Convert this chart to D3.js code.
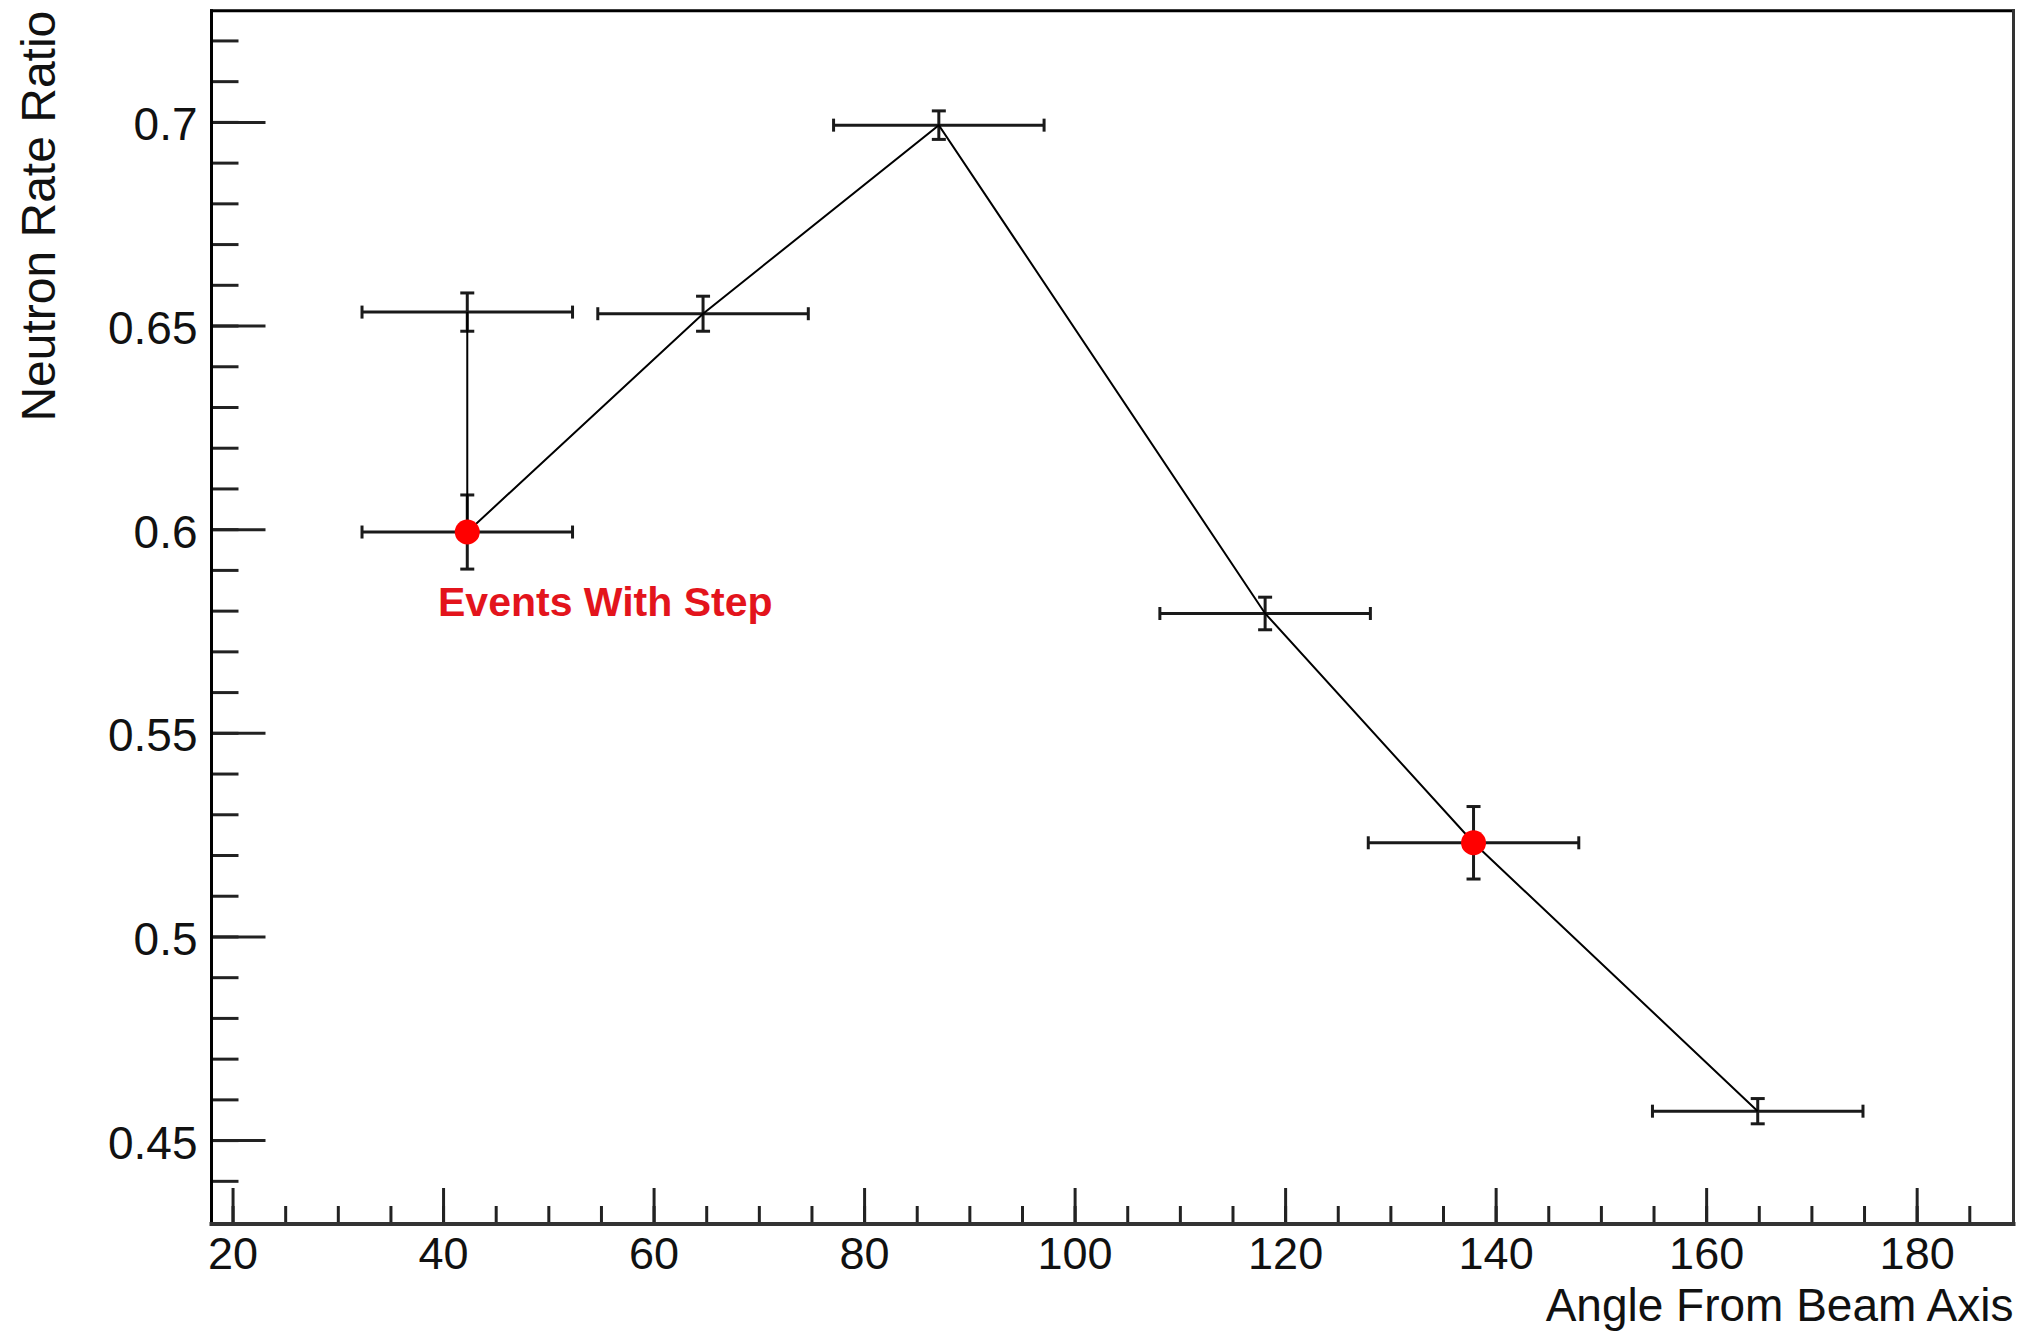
<!DOCTYPE html>
<html>
<head>
<meta charset="utf-8">
<script src="https://cdn.jsdelivr.net/npm/d3@7"></script>
<style>
  body { margin: 0; background: #fff; }
  svg { display: block; }
  .tick text { font-family: "Liberation Sans", Arial, Helvetica, sans-serif; }
</style>
</head>
<body>
<div id="chart"></div>
<script>
// data
const angles      = [42.3, 42.3, 64.7, 87.1, 118.1, 137.9, 164.9];
const ratios      = [0.6533, 0.5993, 0.6529, 0.6992, 0.5793, 0.5230, 0.4571];
const ratioErrors = [0.0047, 0.0091, 0.0043, 0.0035, 0.0040, 0.0089, 0.0031];
const angleErrors = [10, 10, 10, 10, 10, 10, 10];
const withStep    = [false, true, false, false, false, true, false];

const xTicks      = [20, 40, 60, 80, 100, 120, 140, 160, 180];
const xMinorTicks = d3.range(20, 190, 5);
const yTicks      = [0.45, 0.5, 0.55, 0.6, 0.65, 0.7];
const yTickLabels = ["0.45", "0.5", "0.55", "0.6", "0.65", "0.7"];
const yMinorTicks = d3.range(44, 73).map(d => d / 100);

const xTitle = "Angle From Beam Axis";
const yTitle = "Neutron Rate Ratio";
const stepLabel = "Events With Step";

const W = 2037, H = 1331;
const frame = {left: 211.5, right: 2013.5, top: 10.7, bottom: 1224};
const font = '"Liberation Sans", Arial, Helvetica, sans-serif';

let points = angles.map((a, i) => ({
    x: a, y: ratios[i], ex: angleErrors[i], ey: ratioErrors[i], step: withStep[i]
}));

let svg = d3.select('#chart').append('svg').attr('width', W).attr('height', H);

let x = d3.scaleLinear().domain([18, 189.2]).range([frame.left, frame.right]);
let y = d3.scaleLinear().domain([0.4294, 0.7273]).range([frame.bottom, frame.top]);

// x axis: major + minor ticks pointing up
let xMinor = svg.append('g').attr('transform', `translate(0,${frame.bottom})`)
    .call(d3.axisBottom(x).tickValues(xMinorTicks).tickSize(-18).tickFormat(''));
let xMajor = svg.append('g').attr('transform', `translate(0,${frame.bottom})`)
    .call(d3.axisBottom(x).tickValues(xTicks).tickSize(-36).tickPadding(13).tickFormat(d3.format('d')));

// y axis
let yMinor = svg.append('g').attr('transform', `translate(${frame.left},0)`)
    .call(d3.axisLeft(y).tickValues(yMinorTicks).tickSize(-27).tickFormat(''));
let yMajor = svg.append('g').attr('transform', `translate(${frame.left},0)`)
    .call(d3.axisLeft(y).tickValues(yTicks).tickSize(-54).tickPadding(14)
        .tickFormat((d, i) => yTickLabels[i]));

[xMinor, xMajor, yMinor, yMajor].forEach(g => {
    g.select('.domain').remove();
    g.selectAll('.tick line').attr('stroke', '#222').attr('stroke-width', 3);
    g.selectAll('.tick text').attr('font-size', 46).attr('fill', '#111');
});
xMajor.selectAll('.tick text').attr('font-size', 45);
yMajor.selectAll('.tick text').attr('dy', '0.39em');

// frame
let borders = [
    {x1: frame.left, y1: frame.top, x2: frame.right, y2: frame.top, w: 3, c: '#000'},
    {x1: frame.left, y1: frame.top, x2: frame.left, y2: frame.bottom, w: 3, c: '#000'},
    {x1: frame.right, y1: frame.top, x2: frame.right, y2: frame.bottom, w: 3, c: '#333'},
    {x1: frame.left, y1: frame.bottom, x2: frame.right, y2: frame.bottom, w: 4, c: '#333'}
];
svg.append('g').selectAll('line').data(borders).join('line')
    .attr('x1', d => d.x1).attr('y1', d => d.y1)
    .attr('x2', d => d.x2).attr('y2', d => d.y2)
    .attr('stroke', d => d.c).attr('stroke-width', d => d.w)
    .attr('stroke-linecap', 'square');

// error bars
let bars = svg.append('g').attr('stroke', '#1a1a1a').attr('stroke-width', 3);
points.forEach(p => {
    let cx = x(p.x), cy = y(p.y);
    let x0 = x(p.x - p.ex), x1 = x(p.x + p.ex);
    let y0 = y(p.y + p.ey), y1 = y(p.y - p.ey);
    bars.append('line').attr('x1', x0).attr('x2', x1).attr('y1', cy).attr('y2', cy);
    bars.append('line').attr('x1', x0).attr('x2', x0).attr('y1', cy - 6.5).attr('y2', cy + 6.5);
    bars.append('line').attr('x1', x1).attr('x2', x1).attr('y1', cy - 6.5).attr('y2', cy + 6.5);
    bars.append('line').attr('x1', cx).attr('x2', cx).attr('y1', y0).attr('y2', y1);
    bars.append('line').attr('x1', cx - 7).attr('x2', cx + 7).attr('y1', y0).attr('y2', y0);
    bars.append('line').attr('x1', cx - 7).attr('x2', cx + 7).attr('y1', y1).attr('y2', y1);
});

// connecting line
let line = d3.line().x(d => x(d.x)).y(d => y(d.y));
svg.append('path').datum(points)
    .attr('d', line)
    .attr('fill', 'none')
    .attr('stroke', '#000')
    .attr('stroke-width', 2);

// red markers
svg.append('g').selectAll('circle').data(points.filter(p => p.step)).join('circle')
    .attr('cx', d => x(d.x)).attr('cy', d => y(d.y))
    .attr('r', 12.5)
    .attr('fill', '#f00');

svg.append('text')
    .attr('x', 438).attr('y', 616)
    .attr('font-family', font).attr('font-size', 41).attr('font-weight', 'bold')
    .attr('fill', '#e3141c')
    .text(stepLabel);

// axis titles
svg.append('text')
    .attr('x', frame.right).attr('y', 1321)
    .attr('text-anchor', 'end')
    .attr('font-family', font).attr('font-size', 46).attr('fill', '#111')
    .text(xTitle);

svg.append('text')
    .attr('transform', `translate(55,${frame.top}) rotate(-90)`)
    .attr('text-anchor', 'end')
    .attr('font-family', font).attr('font-size', 48).attr('fill', '#111')
    .text(yTitle);
</script>
</body>
</html>
